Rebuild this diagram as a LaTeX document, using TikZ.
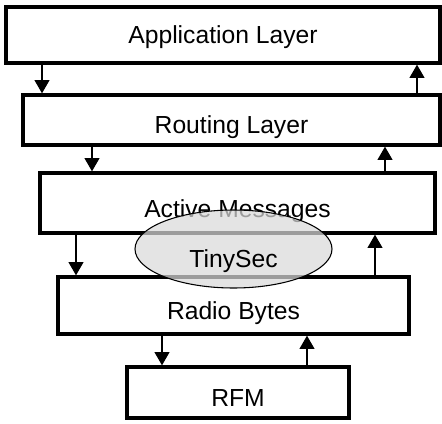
\documentclass[tikz,border=0pt]{standalone}
\usepackage{fontspec}
\setmainfont{Liberation Sans}
\usetikzlibrary{arrows.meta,shapes.geometric}

\begin{document}
\begin{tikzpicture}[x=0.75pt,y=-0.75pt,>={Triangle[width=11pt,length=10pt]}]
	\tikzstyle{layer}=[draw,line width=2.4pt,inner sep=0pt,font=\fontsize{18.5}{22}\selectfont,text height=21pt,text depth=0pt]
	\tikzstyle{link}=[line width=1.6pt]
	\useasboundingbox (0,0) rectangle (442,424);
	
	\node[layer,text height=13pt,minimum width=325.5pt,minimum height=42pt]   (app)     at (223,35)    {Application Layer};
	\node[layer,minimum width=312.75pt,minimum height=37.5pt]                  (routing) at (231.5,120) {Routing Layer};
	\node[layer,minimum width=296.25pt,minimum height=45pt]                    (am)      at (237.5,203) {Active Messages};
	\node[layer,minimum width=263.25pt,minimum height=42.75pt]                 (radio)   at (233.5,305.5) {Radio Bytes};
	\node[layer,minimum width=166.5pt,minimum height=38.25pt]                  (rfm)     at (238,392.5) {RFM};
	
	% TinySec sits between the two middle layers
	\node[ellipse,draw,line width=0.8pt,fill=black!15,fill opacity=0.72,text opacity=1,inner sep=0pt,
	minimum width=147.75pt,minimum height=58.5pt,font=\fontsize{18.5}{22}\selectfont,text height=27pt,text depth=0pt]
	(tinysec) at (233.5,249) {TinySec};
	
	\path[->,link]
	(app.south -| 42,0)      edge (routing.north -| 42,0)
	(routing.north -| 417,0) edge (app.south -| 417,0)
	(routing.south -| 92,0)  edge (am.north -| 92,0)
	(am.north -| 385,0)      edge (routing.south -| 385,0)
	(am.south -| 76,0)       edge (radio.north -| 76,0)
	(radio.north -| 375,0)   edge (am.south -| 375,0)
	(radio.south -| 162,0)   edge (rfm.north -| 162,0)
	(rfm.north -| 307,0)     edge (radio.south -| 307,0);
\end{tikzpicture}
\end{document}
